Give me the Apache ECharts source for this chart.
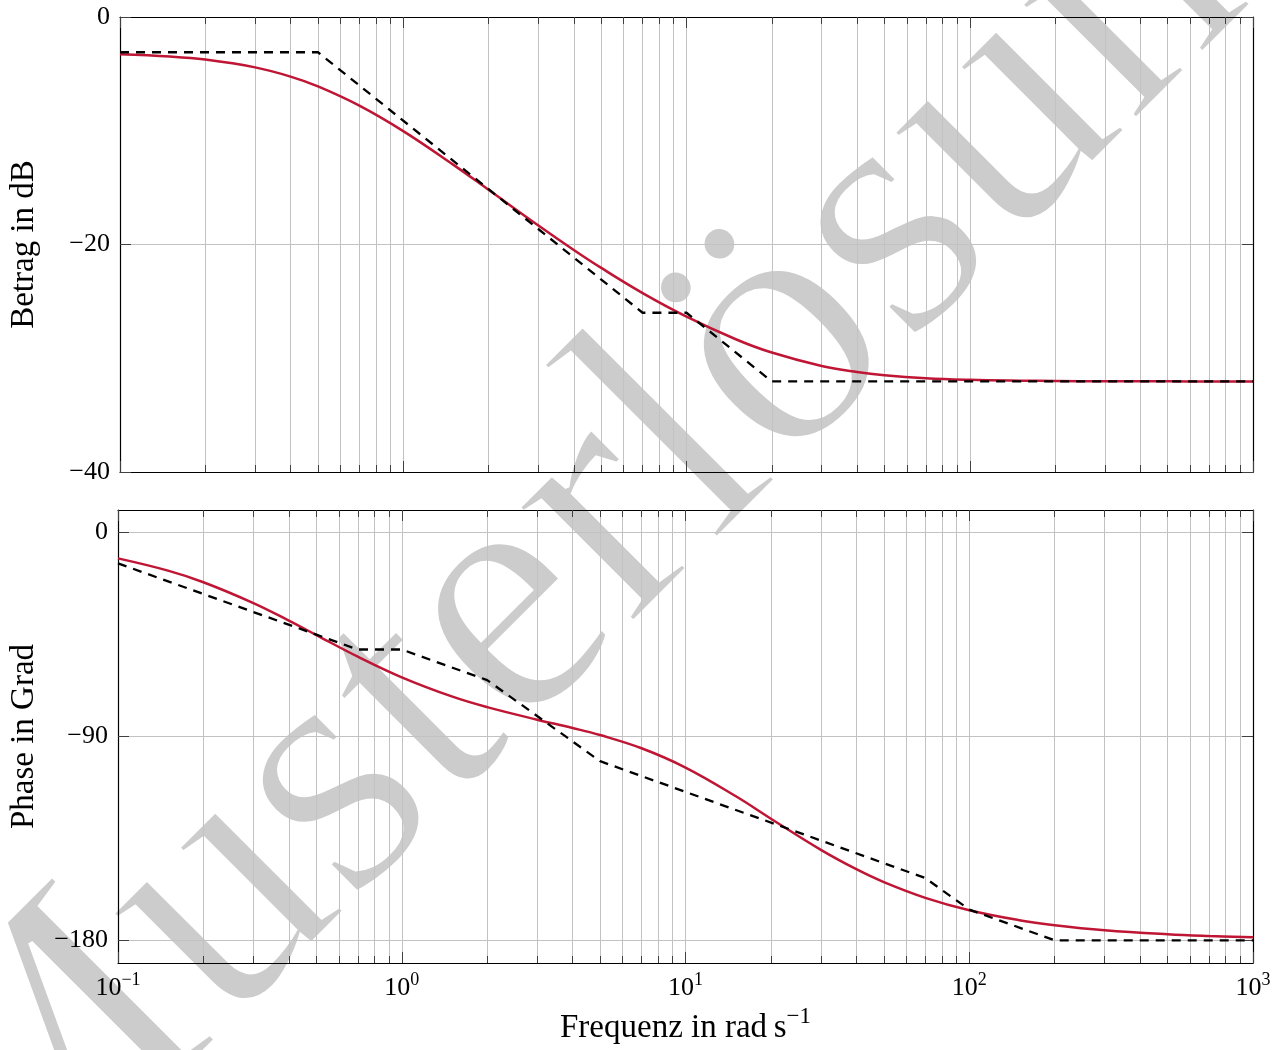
<!DOCTYPE html>
<html><head><meta charset="utf-8">
<script src="https://cdn.jsdelivr.net/npm/echarts@6/dist/echarts.min.js"></script>
<style>html,body{margin:0;padding:0;background:#fff}#c{width:1280px;height:1050px}</style>
</head><body><div id="c"></div>
<script>
// Frequencies (rad/s) and exact curve values
const freq = [0.1,0.15,0.2,0.3,0.4,0.5,0.7,1,1.5,2,3,4,5,7,10,15,20,30,40,50,70,100,150,200,300,500,700,1000];
const magnitude = [-3.27,-3.47,-3.74,-4.43,-5.24,-6.10,-7.79,-10.03,-12.98,-15.19,-18.33,-20.48,-22.06,-24.27,-26.34,-28.35,-29.50,-30.68,-31.21,-31.49,-31.75,-31.89,-31.97,-32.00,-32.02,-32.03,-32.04,-32.04];
const phase = [-11.35,-16.76,-21.88,-31.08,-38.83,-45.21,-54.76,-63.87,-72.30,-77.03,-82.57,-86.24,-89.36,-95.19,-103.70,-116.29,-126.29,-140.06,-148.60,-154.29,-161.22,-166.69,-171.08,-173.29,-175.52,-177.30,-178.07,-178.65];
// Asymptotic (dashed) approximations
const magAsymFreq = [0.1,0.5,7,10,20,1000];
const magAsym = [-3.1,-3.1,-26.0,-26.0,-32.04,-32.04];
const phaseAsymFreq = [0.1,0.7,1,2,5,70,100,200,1000];
const phaseAsym = [-13.55,-51.6,-51.6,-65.1,-100.9,-152.5,-166.4,-180,-180];
// Tick values
const xMajorTicks = [0.1,1,10,100,1000];
const xMinorTicks = [0.2,0.3,0.4,0.5,0.6,0.7,0.8,0.9,2,3,4,5,6,7,8,9,20,30,40,50,60,70,80,90,200,300,400,500,600,700,800,900];
const magTicks = [0,-20,-40];
const phaseTicks = [0,-90,-180];

const FONT = '"Liberation Serif","Times New Roman",serif';
const RED = '#be1634';
const GRIDC = '#c2c2c2';
const TICKC = '#404040';
const WM_FONT = '355px "Liberation Serif", serif';

function pairs(xs, ys){ return xs.map((x,i)=>[x, ys[i]]); }
function minus(v){ return v < 0 ? '\u2212' + Math.abs(v) : String(v); }
function supLabel(v){
  const e = Math.round(Math.log10(v));
  return '{b|10}{s|' + minus(e) + '}';
}
const supRich = {
  b:{fontFamily:FONT,fontSize:26,lineHeight:30,verticalAlign:'bottom',color:'#000'},
  s:{fontFamily:FONT,fontSize:18,lineHeight:18,verticalAlign:'top',color:'#000'}
};

function xAxes(gi, showLabels, name){
  const base = {type:'log',logBase:10,min:0.1,max:1000,gridIndex:gi,z:1};
  const line = {show:true,onZero:false,lineStyle:{color:'#000',width:1.2}};
  const noline = {show:false,onZero:false};
  const major = {
    ...base, position:'bottom', axisLine:line,
    axisTick:{show:true,inside:true,length:11,customValues:xMajorTicks,lineStyle:{color:TICKC,width:1}},
    axisLabel:{show:showLabels,customValues:xMajorTicks,formatter:supLabel,rich:supRich,margin:8},
    splitLine:{show:true,lineStyle:{color:GRIDC,width:1}},
    minorTick:{show:false}, minorSplitLine:{show:false}
  };
  if (name) {
    major.name = '{t|Frequenz in rad\u2009s}{s|\u22121}';
    major.nameLocation = 'middle';
    major.nameGap = 42;
    major.nameMoveOverlap = false;
    major.nameTextStyle = {rich:{
      t:{fontFamily:FONT,fontSize:33,lineHeight:40,verticalAlign:'bottom',color:'#000'},
      s:{fontFamily:FONT,fontSize:23,lineHeight:24,verticalAlign:'top',color:'#000'}
    }};
  }
  return [
    major,
    {...base, position:'bottom', axisLine:noline,
      axisTick:{show:true,inside:true,length:7,customValues:xMinorTicks,lineStyle:{color:TICKC,width:1}},
      axisLabel:{show:false,customValues:xMinorTicks},
      splitLine:{show:true,lineStyle:{color:GRIDC,width:1}}},
    {...base, position:'top', axisLine:line,
      axisTick:{show:true,inside:true,length:11,customValues:xMajorTicks,lineStyle:{color:TICKC,width:1}},
      axisLabel:{show:false,customValues:xMajorTicks}, splitLine:{show:false}},
    {...base, position:'top', axisLine:noline,
      axisTick:{show:true,inside:true,length:7,customValues:xMinorTicks,lineStyle:{color:TICKC,width:1}},
      axisLabel:{show:false,customValues:xMinorTicks}, splitLine:{show:false}}
  ];
}

function yAxes(gi, min, max, ticks, name, gap){
  const base = {type:'value',min:min,max:max,gridIndex:gi,z:1};
  const line = {show:true,onZero:false,lineStyle:{color:'#000',width:1.2}};
  return [
    {...base, position:'left', axisLine:line,
      axisTick:{show:true,inside:true,length:11,customValues:ticks,lineStyle:{color:TICKC,width:1}},
      axisLabel:{customValues:ticks,formatter:minus,fontFamily:FONT,fontSize:26,color:'#000',margin:10},
      splitLine:{show:true,lineStyle:{color:GRIDC,width:1}},
      name:name,nameLocation:'middle',nameGap:gap,nameMoveOverlap:false,
      nameTextStyle:{fontFamily:FONT,fontSize:33,color:'#000'}},
    {...base, position:'right', axisLine:line,
      axisTick:{show:true,inside:true,length:11,customValues:ticks,lineStyle:{color:TICKC,width:1}},
      axisLabel:{show:false,customValues:ticks}, splitLine:{show:false}}
  ];
}

const chart = echarts.init(document.getElementById('c'), null, {renderer:'canvas'});
chart.setOption({
  animation:false,
  backgroundColor:'#fff',
  graphic:[
    {type:'text', x:625, y:499, rotation:Math.PI/4, z:0, z2:0, silent:true,
      style:{text:'Musterlösung', font:WM_FONT, fill:'#cccccc', align:'center', verticalAlign:'middle'}},
    {type:'text', x:625, y:499, rotation:Math.PI/4, z:0, z2:1, silent:true,
      style:{text:'Musterlösung', font:WM_FONT, fill:'rgba(0,0,0,0)', stroke:'#ffffff', lineWidth:5,
        align:'center', verticalAlign:'middle'}}
  ],
  grid:[
    {left:118,right:27,top:17,height:455,show:false},
    {left:118,right:27,top:510,height:453,show:false}
  ],
  xAxis:[...xAxes(0,false,false), ...xAxes(1,true,true)],
  yAxis:[...yAxes(0,-40,0,magTicks,'Betrag in dB',79), ...yAxes(1,-190,10,phaseTicks,'Phase in Grad',77)],
  series:[
    {type:'line',xAxisIndex:0,yAxisIndex:0,data:pairs(freq,magnitude),smooth:0.4,showSymbol:false,z:2,
      lineStyle:{color:RED,width:2.5}},
    {type:'line',xAxisIndex:0,yAxisIndex:0,data:pairs(magAsymFreq,magAsym),showSymbol:false,z:3,
      lineStyle:{color:'#000',width:2.3,type:[9,7]}},
    {type:'line',xAxisIndex:4,yAxisIndex:2,data:pairs(freq,phase),smooth:0.4,showSymbol:false,z:2,
      lineStyle:{color:RED,width:2.5}},
    {type:'line',xAxisIndex:4,yAxisIndex:2,data:pairs(phaseAsymFreq,phaseAsym),showSymbol:false,z:3,
      lineStyle:{color:'#000',width:2.3,type:[9,7]}}
  ]
});
</script></body></html>
